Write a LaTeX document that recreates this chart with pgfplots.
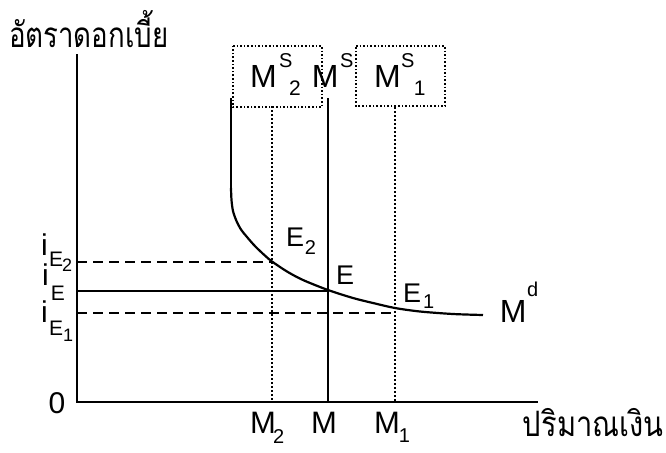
\documentclass[border=0pt]{standalone}
\usepackage{graphicx}
\usepackage{pgfplots}
\pgfplotsset{compat=1.18}
\usepackage{fontspec}
\setmainfont{Liberation Sans}
\newfontfamily\thaifont[Script=Thai]{Loma}
\tikzset{lb/.style={inner sep=0pt, outer sep=0pt, anchor=base west}}
\newcommand\fs[1]{\fontsize{#1}{#1}\selectfont}
\begin{document}
\begin{tikzpicture}
\begin{axis}[name=ax, hide axis, scale only axis, width=333pt, height=226pt,
  xmin=0, xmax=666, ymin=0, ymax=452, y dir=reverse, clip=false]
% axes
\addplot[black, line width=1.2pt, line cap=rect] coordinates {(77,55) (77,402) (537,402)};
% money supply M^S
\addplot[black, line width=1.1pt] coordinates {(328,98) (328,402)};
% dotted supplies
\addplot[black, line width=0.9pt, dash pattern=on 0.9pt off 1.1pt] coordinates {(272,106) (272,402)};
\addplot[black, line width=0.9pt, dash pattern=on 0.9pt off 1.1pt] coordinates {(395,107) (395,402)};
% boxes
\addplot[black, line width=0.8pt, dash pattern=on 0.8pt off 1.0pt] coordinates {(233,46) (322,46) (322,107) (233,107) (233,46)};
\addplot[black, line width=0.8pt, dash pattern=on 0.8pt off 1.0pt] coordinates {(356,46) (445,46) (445,106) (356,106) (356,46)};
% horizontal rate lines
\addplot[black, line width=1pt, dash pattern=on 5pt off 3pt] coordinates {(77,262) (272,262)};
\addplot[black, line width=1pt] coordinates {(77,291) (328,291)};
\addplot[black, line width=1pt, dash pattern=on 5pt off 3pt] coordinates {(77,313) (395,313)};
% money demand curve: vertical part and curved part
\addplot[black, line width=1.1pt] coordinates {(231,98) (231,188)};
\addplot[black, line width=1.1pt, smooth] coordinates {
 (231,188) (231.5,200) (233,211) (236.5,221) (241,229.5) (247,237) (253.5,244.5) (260,251) (266,256.5) (272,261.5)
 (287,271.5) (303,280) (328,290) (353,298) (373,303) (395,308) (420,311.5) (453,314) (483,315)};
% Thai axis labels
\node[lb, font=\thaifont\fs{17.5pt}] at (axis cs:9,47) {\scalebox{0.79}[1]{อัตราดอกเบี้ย}};
\node[lb, font=\thaifont\fs{17.5pt}] at (axis cs:523,436) {\scalebox{0.83}[1]{ปริมาณเงิน}};
% zero
\node[lb, anchor=base, font=\fs{15pt}] at (axis cs:57,413) {0};
% left labels
\node[lb, font=\fs{15pt}] at (axis cs:41,255) {i};
\node[lb, font=\fs{10.5pt}] at (axis cs:49,266) {E};
\node[lb, font=\fs{9pt}] at (axis cs:62,271) {2};
\node[lb, font=\fs{15pt}] at (axis cs:42,285) {i};
\node[lb, font=\fs{10.5pt}] at (axis cs:51,300) {E};
\node[lb, font=\fs{15pt}] at (axis cs:41,322) {i};
\node[lb, font=\fs{10.5pt}] at (axis cs:49,335) {E};
\node[lb, font=\fs{9pt}] at (axis cs:63,341) {1};
% bottom labels
\node[lb, font=\fs{15.5pt}] at (axis cs:250,433) {M};
\node[lb, font=\fs{10pt}] at (axis cs:273,443) {2};
\node[lb, font=\fs{15.5pt}] at (axis cs:311,433) {M};
\node[lb, font=\fs{15.5pt}] at (axis cs:374,433) {M};
\node[lb, font=\fs{10pt}] at (axis cs:399,442) {1};
% box labels
\node[lb, font=\fs{16pt}] at (axis cs:250,87) {M};
\node[lb, font=\fs{10pt}] at (axis cs:279,67) {S};
\node[lb, font=\fs{10.5pt}] at (axis cs:289,95) {2};
\node[lb, font=\fs{16pt}] at (axis cs:312,87) {M};
\node[lb, font=\fs{10pt}] at (axis cs:340,67) {S};
\node[lb, font=\fs{16pt}] at (axis cs:374,87) {M};
\node[lb, font=\fs{10pt}] at (axis cs:401,67) {S};
\node[lb, font=\fs{10.5pt}] at (axis cs:414,95) {1};
% equilibrium labels
\node[lb, font=\fs{13.5pt}] at (axis cs:286,246) {E};
\node[lb, font=\fs{10pt}] at (axis cs:305,254) {2};
\node[lb, font=\fs{13.5pt}] at (axis cs:336,284) {E};
\node[lb, font=\fs{13.5pt}] at (axis cs:403,302) {E};
\node[lb, font=\fs{10pt}] at (axis cs:423,308) {1};
\node[lb, font=\fs{16pt}] at (axis cs:500,322) {M};
\node[lb, font=\fs{10pt}] at (axis cs:527,296) {d};
\end{axis}
\pgfresetboundingbox
\path (ax.south west) rectangle (ax.north east);
\end{tikzpicture}
\end{document}
